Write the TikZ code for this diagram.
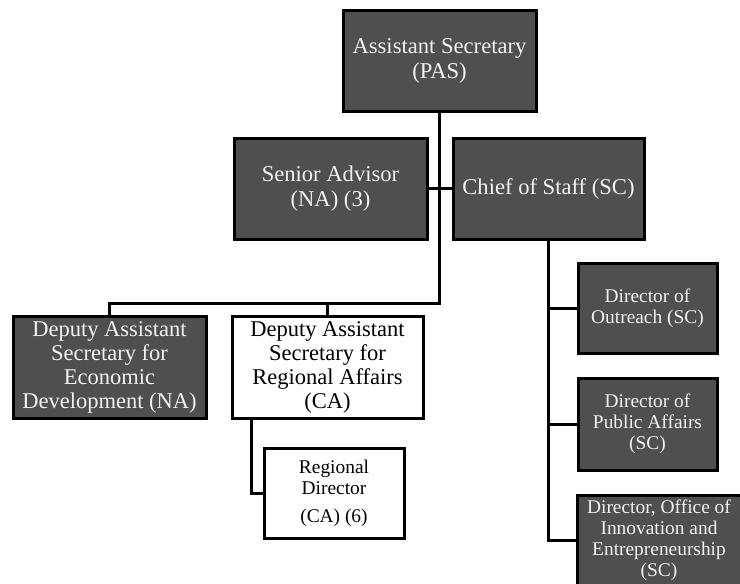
\documentclass[tikz,border=0pt]{standalone}
\usepackage{fontspec}
\setmainfont{Liberation Serif}
\definecolor{boxgray}{HTML}{4F4F4F}
\definecolor{txtwhite}{HTML}{F2F2F2}
\begin{document}
\begin{tikzpicture}[x=1pt,y=-1pt,
  boxbase/.style={draw=black,line width=3pt,rectangle,align=center,inner sep=2pt},
  darkbox/.style={boxbase,fill=boxgray,text=txtwhite},
  lightbox/.style={boxbase,fill=white,text=black},
  bigtxt/.style={font=\fontsize{22.6}{25}\selectfont},
  midtxt/.style={font=\fontsize{22.5}{24}\selectfont},
  smalltxt/.style={font=\fontsize{19.4}{21}\selectfont},
  conn/.style={draw=black,line width=3pt}]
\useasboundingbox (0,0) rectangle (740,584);
\fill[white] (0,0) rectangle (740,584);

\node[darkbox,bigtxt,minimum width=193pt,minimum height=101pt] (pas) at (439.5,60.5) {Assistant Secretary\\(PAS)};
\node[darkbox,bigtxt,minimum width=193pt,minimum height=101pt] (sa) at (330.5,188.5) {Senior Advisor\\(NA) (3)};
\node[darkbox,bigtxt,minimum width=191pt,minimum height=101pt] (cos) at (548.5,188.5) {Chief of Staff (SC)};
\node[darkbox,midtxt,minimum width=193pt,minimum height=102pt] (dase) at (109.5,367) {Deputy Assistant\\Secretary for\\Economic\\Development (NA)};
\node[lightbox,midtxt,minimum width=191pt,minimum height=102pt] (dasr) at (327.5,367) {Deputy Assistant\\Secretary for\\Regional Affairs\\(CA)};
\node[lightbox,smalltxt,minimum width=140pt,minimum height=90pt] (rd) at (334,493) {Regional\\Director\\[7pt](CA) (6)};
\node[darkbox,smalltxt,minimum width=139pt,minimum height=90pt] (do) at (647.5,308) {Director of\\Outreach (SC)};
\node[darkbox,smalltxt,minimum width=139pt,minimum height=92pt] (dpa) at (647.5,424) {Director of\\Public Affairs\\(SC)};
\node[darkbox,smalltxt,minimum width=164pt,minimum height=90pt] (doie) at (659,540) {Director, Office of\\Innovation and\\Entrepreneurship\\(SC)};

\coordinate (hub) at (439.5,303);
\coordinate (left) at (109.5,303);
\coordinate (mid) at (327.5,303);
\coordinate (rdtop) at (251,418);
\coordinate (rdbend) at (251,493);
\coordinate (costop) at (548,239.5);

\draw[conn] (pas.south) -- (hub);
\draw[conn] (sa.east) -- (cos.west);
\draw[conn,line cap=rect] (left) -- (hub);
\draw[conn] (left) -- (dase.north);
\draw[conn] (mid) -- (dasr.north);
\draw[conn] (rdtop) -- (rdbend) -- (rd.west);
\draw[conn] (costop) |- (doie.west);
\draw[conn] (costop) |- (do.west);
\draw[conn] (costop) |- (dpa.west);
\end{tikzpicture}
\end{document}
